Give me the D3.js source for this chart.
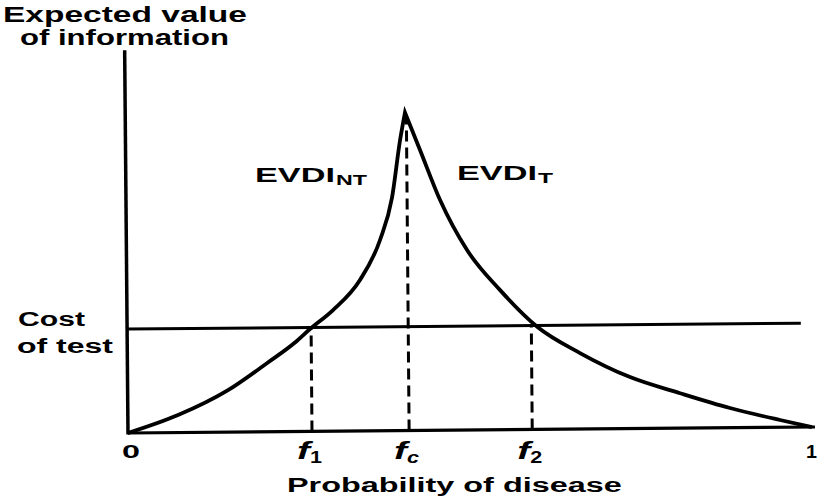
<!DOCTYPE html>
<html>
<head>
<meta charset="utf-8">
<script src="https://cdn.jsdelivr.net/npm/d3@7"></script>
<style>
  body { margin: 0; background: #fff; }
  text { font-family: "Liberation Sans", Arial, sans-serif; font-weight: bold; fill: #000; }
</style>
</head>
<body>
<div id="chart"></div>
<script>
// schematic values (x = probability, y = value, peak = 1)
const thresholds = [
  {key: "f1", sub: "1", value: 0.269},
  {key: "fc", sub: "c", value: 0.411},
  {key: "f2", sub: "2", value: 0.591}
]
const costOfTest = 0.327
const costEnd = 0.985
const yTop = 1.204

const evdiNT = [[0, 0], [0.0734, 0.055], [0.1468, 0.132], [0.2055, 0.218], [0.2453, 0.28],
                [0.2674, 0.322], [0.3013, 0.381], [0.3411, 0.475], [0.3709, 0.6],
                [0.3889, 0.732], [0.4015, 0.914], [0.409, 1.0]]
const evdiT = [[0.409, 1.0], [0.4305, 0.882], [0.4592, 0.724], [0.498, 0.566], [0.5458, 0.439],
               [0.6, 0.322], [0.6618, 0.239], [0.7346, 0.162], [0.8076, 0.11],
               [0.8804, 0.062], [0.9534, 0.023], [1.0, 0]]

const width = 817
const height = 500

const x = d3.scaleLinear().domain([0, 1]).range([128, 812])
const y = d3.scaleLinear().domain([0, 1]).range([433, 115])

const svg = d3.select("#chart").append("svg")
    .attr("width", width)
    .attr("height", height)

// the scanned plot sits slightly tilted
const plot = svg.append("g")
    .attr("transform", `rotate(-0.5, ${x(0)}, ${y(0)})`)

// axes
plot.append("line")
   .attr("x1", x(0)).attr("x2", x(0))
   .attr("y1", y(0) + 1.5).attr("y2", y(yTop))
   .attr("stroke", "#000").attr("stroke-width", 3.5)

const xAxis = d3.axisBottom(x)
    .tickValues([])
    .tickSize(0)
plot.append("g")
    .attr("transform", `translate(0,${y(0)})`)
    .call(xAxis)
    .select(".domain")
    .attr("stroke-width", 3.2)
    .attr("d", `M${x(0)},0H${x(1) + 3}`)

// cost line
plot.append("line")
   .attr("x1", x(0)).attr("x2", x(costEnd))
   .attr("y1", y(costOfTest)).attr("y2", y(costOfTest))
   .attr("stroke", "#000").attr("stroke-width", 3)

// dashed drop lines
const dropTop = {f1: costOfTest, fc: 0.985, f2: costOfTest}
plot.selectAll(".drop")
   .data(thresholds)
   .enter()
   .append("line")
   .attr("class", "drop")
   .attr("x1", d => x(d.value)).attr("x2", d => x(d.value))
   .attr("y1", y(0)).attr("y2", d => y(dropTop[d.key]))
   .attr("stroke", "#000").attr("stroke-width", 3)
   .attr("stroke-dasharray", "11,6")

// curve: two smooth branches joined at the peak
const line = d3.line()
    .x(d => x(d[0]))
    .y(d => y(d[1]))
    .curve(d3.curveMonotoneX)

plot.append("path")
   .attr("class", "curve")
   .attr("d", line(evdiNT) + "L" + line(evdiT).slice(1))
   .attr("fill", "none")
   .attr("stroke", "#000")
   .attr("stroke-width", 3.8)
   .attr("stroke-linejoin", "miter")
   .attr("stroke-miterlimit", 8)

// the lettering is a wide grotesque: stretch the text to its measured width
function wideText(str, left, base, size, w, italic) {
  const g = svg.append("g")
  const tx = g.append("text")
      .attr("font-size", size)
      .attr("font-style", italic ? "italic" : "normal")
      .text(str)
  const natural = tx.node().getComputedTextLength()
  g.attr("transform", `translate(${left},${base}) scale(${w / natural},1)`)
  return g
}

// tick labels
wideText("0", 122, 458, 19, 18)
wideText("1", 806, 458, 19, 11)
thresholds.forEach(d => {
  const left = x(d.value) - 15
  wideText("f", left, 459, 24, 13, true)
  wideText(d.sub, left + 13, 463, 16, 12, d.key === "fc")
})

// titles
wideText("Expected value", 3, 22, 22.5, 244)
wideText("of information", 20, 45, 22.5, 209)
wideText("Cost", 18, 326, 20, 67)
wideText("of test", 17, 353, 20, 96)
wideText("Probability of disease", 287, 492, 20, 335)

// curve labels
wideText("EVDI", 255, 182, 21, 80)
wideText("NT", 336, 185, 15.5, 31)
wideText("EVDI", 457, 180, 21, 80)
wideText("T", 538, 183, 15.5, 15)
</script>
</body>
</html>
